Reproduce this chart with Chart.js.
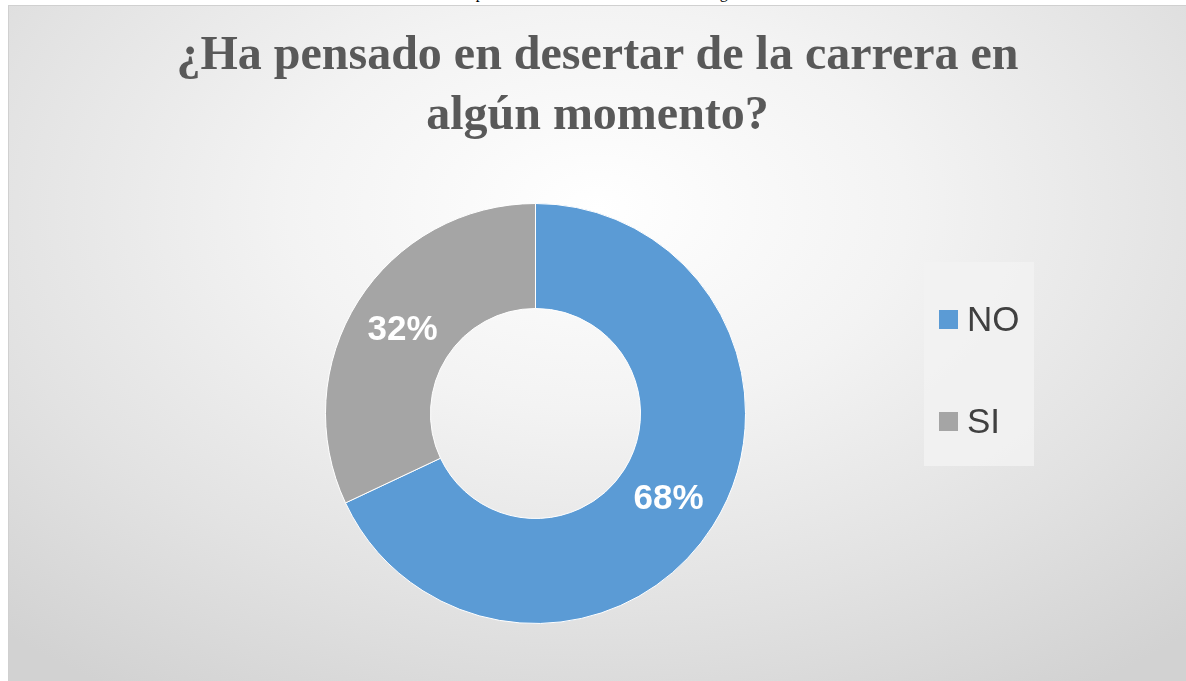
<!DOCTYPE html>
<html lang="es">
<head>
<meta charset="utf-8">
<title>¿Ha pensado en desertar de la carrera en algún momento?</title>
<script src="https://cdn.jsdelivr.net/npm/chart.js@4/dist/chart.umd.min.js"></script>
<style>
  html, body { margin: 0; padding: 0; background: #fff; overflow: hidden; }
  body { width: 1186px; height: 681px; position: relative; }
  .caption {
    position: absolute; left: 0; width: 1186px; top: -16px;
    text-align: center; font: 16px "Liberation Serif", serif; color: #000;
  }
  .panel {
    position: absolute; left: 8px; top: 5px; width: 1177px; height: 675px;
    border: 1px solid #d0d0d0;
    background: radial-gradient(ellipse 75% 85% at 50% 30%, #ffffff 0%, #f3f3f3 35%, #e2e2e2 70%, #d2d2d2 100%);
  }
  canvas { position: absolute; left: 0; top: 0; }
  .titulo {
    position: absolute; left: 0; top: 17px; width: 1177px; text-align: center;
    font: bold 48px/60px "Liberation Serif", "Times New Roman", serif; color: #595959;
  }
  .legend {
    position: absolute; left: 915px; top: 256px; width: 110px; height: 204px;
    background: rgba(242, 242, 242, 0.85);
  }
  .legend .item {
    position: absolute; left: 15px; height: 36px; display: flex; align-items: center;
    font: 35px "Liberation Sans", Arial, sans-serif; color: #404040;
  }
  .legend .sw { width: 19px; height: 19px; margin-right: 9px; }
</style>
</head>
<body>
<div class="caption">Gráfica 11. Ha pensado en desertar de la carrera en algún momento</div>
<div class="panel">
  <canvas id="chart" width="1177" height="675"></canvas>
  <div class="titulo" id="titulo"></div>
  <div class="legend" id="legend"></div>
</div>
<script>
// Datos del gráfico
const categorias = ['NO', 'SI'];
const porcentajes = [68, 32];
const colores = ['#5b9bd5', '#a5a5a5'];
const titulo = ['¿Ha pensado en desertar de la carrera en', 'algún momento?'];

// Etiquetas de porcentaje dentro de cada sector
const etiquetasPlugin = {
  id: 'etiquetas',
  afterDatasetsDraw(chart) {
    const ctx = chart.ctx;
    const meta = chart.getDatasetMeta(0);
    ctx.save();
    ctx.font = 'bold 35px "Liberation Sans", Arial, sans-serif';
    ctx.fillStyle = '#ffffff';
    ctx.textAlign = 'center';
    ctx.textBaseline = 'middle';
    meta.data.forEach((arc, i) => {
      const pos = arc.tooltipPosition();
      ctx.fillText(porcentajes[i] + '%', pos.x, pos.y + 1);
    });
    ctx.restore();
  }
};

new Chart(document.getElementById('chart'), {
  type: 'doughnut',
  data: {
    labels: categorias,
    datasets: [{
      data: porcentajes,
      backgroundColor: colores,
      borderColor: '#ffffff',
      borderWidth: 1
    }]
  },
  options: {
    responsive: false,
    animation: false,
    cutout: '50%',
    layout: { padding: { left: 316, right: 440, bottom: 57, top: 197 } },
    plugins: {
      legend: { display: false },
      tooltip: { enabled: false },
      title: { display: false }
    }
  },
  plugins: [etiquetasPlugin]
});

// Título y leyenda a partir de los mismos datos
document.getElementById('titulo').innerHTML = titulo.join('<br>');

const legend = document.getElementById('legend');
categorias.forEach((cat, i) => {
  const item = document.createElement('div');
  item.className = 'item';
  item.style.top = (39 + i * 102) + 'px';
  item.innerHTML = '<span class="sw" style="background:' + colores[i] + '"></span>' + cat;
  legend.appendChild(item);
});
</script>
</body>
</html>
